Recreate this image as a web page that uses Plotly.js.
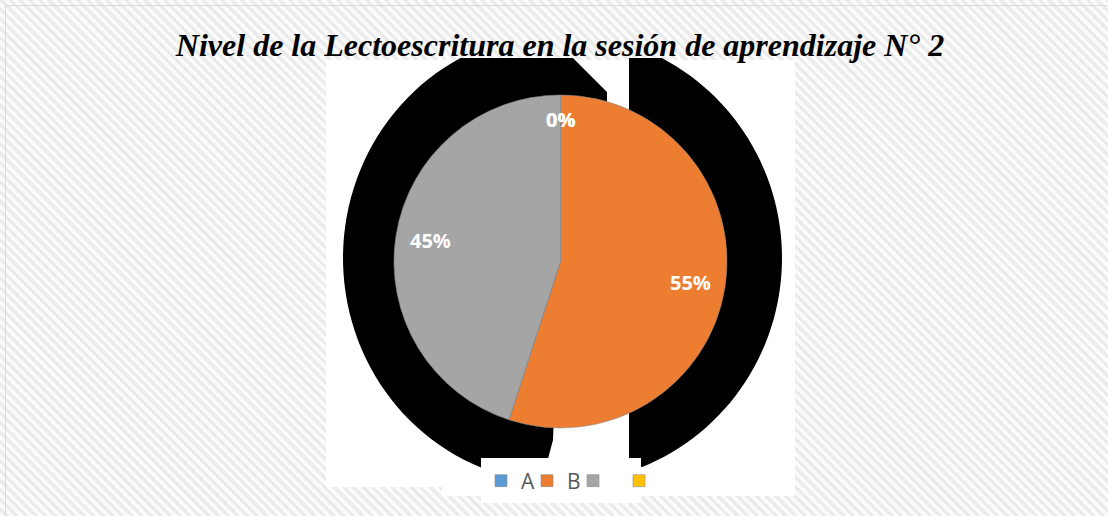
<!DOCTYPE html>
<html>
<head>
<meta charset="utf-8">
<script src="https://cdn.plot.ly/plotly-3.0.1.min.js"></script>
<style>
  html, body { margin: 0; padding: 0; background: #ffffff; }
  #chart {
    width: 1108px; height: 516px;
    background: repeating-linear-gradient(45deg, #fbfbfb 0px, #fbfbfb 3.4px, #ebebeb 3.6px, #ebebeb 6.6px, #fbfbfb 6.8px);
  }
</style>
</head>
<body>
<div id="chart"></div>
<script>
// ---- data ----
const categories = ['A', 'B', ' ', '  '];
const percentages = [0, 55, 45, 0];
const sliceColors = ['#5B9BD5', '#ED7D31', '#A5A5A5', '#FFC000'];
const chartTitle = 'Nivel de la Lectoescritura en la sesión de aprendizaje N° 2';

// ---- layout helpers (page pixels -> paper fractions, margins are 0) ----
const W = 1108, H = 516;
const X = px => px / W;
const Y = py => 1 - py / H;

// pie placement
const pieCx = 560.5, pieCy = 261.5, pieR = 166.5;
const domX = [X(pieCx - pieR), X(pieCx + pieR)];
const domY = [Y(pieCy + pieR), Y(pieCy - pieR)];

// decorative background blobs (artefacts of the original picture)
function ellipseArc(cx, cy, rx, ry, t0, t1, n) {
  const pts = [];
  for (let i = 0; i <= n; i++) {
    const t = (t0 + (t1 - t0) * i / n) * Math.PI / 180;
    pts.push([cx + rx * Math.cos(t), cy + ry * Math.sin(t)]);
  }
  return pts;
}
function toPath(pts) {
  return pts.map((p, i) => (i ? 'L' : 'M') + X(p[0]).toFixed(5) + ',' + Y(p[1]).toFixed(5)).join(' ') + ' Z';
}
const leftPts = [[460.6, 58], [573, 58], [607, 92], [607, 262], [560, 262], [553, 440], [545, 470]]
  .concat(ellipseArc(560, 258, 217, 225, 94, 242.7, 60));
const rightPts = [[629, 58]]
  .concat(ellipseArc(560, 258, 222, 225, -62.7, 68.3, 60))
  .concat([[641, 467], [629, 467]]);

const rect = (x0, y0, x1, y1, extra) => Object.assign({
  type: 'rect', xref: 'paper', yref: 'paper', layer: 'below',
  x0: X(x0), x1: X(x1), y0: Y(y1), y1: Y(y0),
  fillcolor: '#ffffff', line: { width: 0 }
}, extra || {});

const shapes = [
  rect(5.5, 5.5, 1112, 520, { fillcolor: 'rgba(0,0,0,0)', line: { color: '#d9d9d9', width: 1 } }),
  rect(326, 60, 795, 487),
  rect(442, 487, 795, 496),
  { type: 'path', xref: 'paper', yref: 'paper', layer: 'below', path: toPath(leftPts), fillcolor: '#000000', line: { width: 0 } },
  { type: 'path', xref: 'paper', yref: 'paper', layer: 'below', path: toPath(rightPts), fillcolor: '#000000', line: { width: 0 } },
  rect(481, 458, 641, 503)
];

// data labels placed on each slice's bisector
const total = percentages.reduce((a, b) => a + b, 0);
let cum = 0;
const annotations = percentages.map((v, i) => {
  const mid = (cum + v / 2) / total * 2 * Math.PI;
  cum += v;
  const k = v === 0 ? 0.85 : 0.79;
  return {
    xref: 'paper', yref: 'paper',
    x: X(pieCx + k * pieR * Math.sin(mid)),
    y: Y(pieCy - k * pieR * Math.cos(mid)),
    text: Math.round(v / total * 100) + '%',
    showarrow: false, xanchor: 'center', yanchor: 'middle',
    font: { family: 'Open Sans, sans-serif', size: 20, color: '#ffffff', weight: 'bold' }
  };
});

const trace = {
  type: 'pie',
  labels: categories,
  values: percentages,
  sort: false,
  direction: 'clockwise',
  rotation: 0,
  textinfo: 'none',
  hoverinfo: 'label+percent',
  marker: { colors: sliceColors, line: { color: '#8c8c8c', width: 0.6 } },
  domain: { x: domX, y: domY },
  showlegend: true
};

const layout = {
  width: W, height: H,
  margin: { l: 0, r: 0, t: 0, b: 0 },
  paper_bgcolor: 'rgba(0,0,0,0)',
  plot_bgcolor: 'rgba(0,0,0,0)',
  title: {
    text: '<b><i>' + chartTitle + '</i></b>',
    x: X(560), xanchor: 'center',
    y: Y(45), yanchor: 'middle', yref: 'container',
    font: { family: 'Liberation Serif, Times New Roman, serif', size: 32, color: '#000000' }
  },
  showlegend: true,
  legend: {
    orientation: 'h',
    x: X(481), xanchor: 'left',
    y: Y(481), yanchor: 'middle',
    bgcolor: 'rgba(0,0,0,0)',
    entrywidth: 1, entrywidthmode: 'pixels',
    font: { family: 'Open Sans, sans-serif', size: 21, color: '#595959' },
    traceorder: 'normal'
  },
  shapes: shapes,
  annotations: annotations
};

Plotly.newPlot('chart', [trace], layout, { displayModeBar: false, staticPlot: true });
</script>
</body>
</html>
